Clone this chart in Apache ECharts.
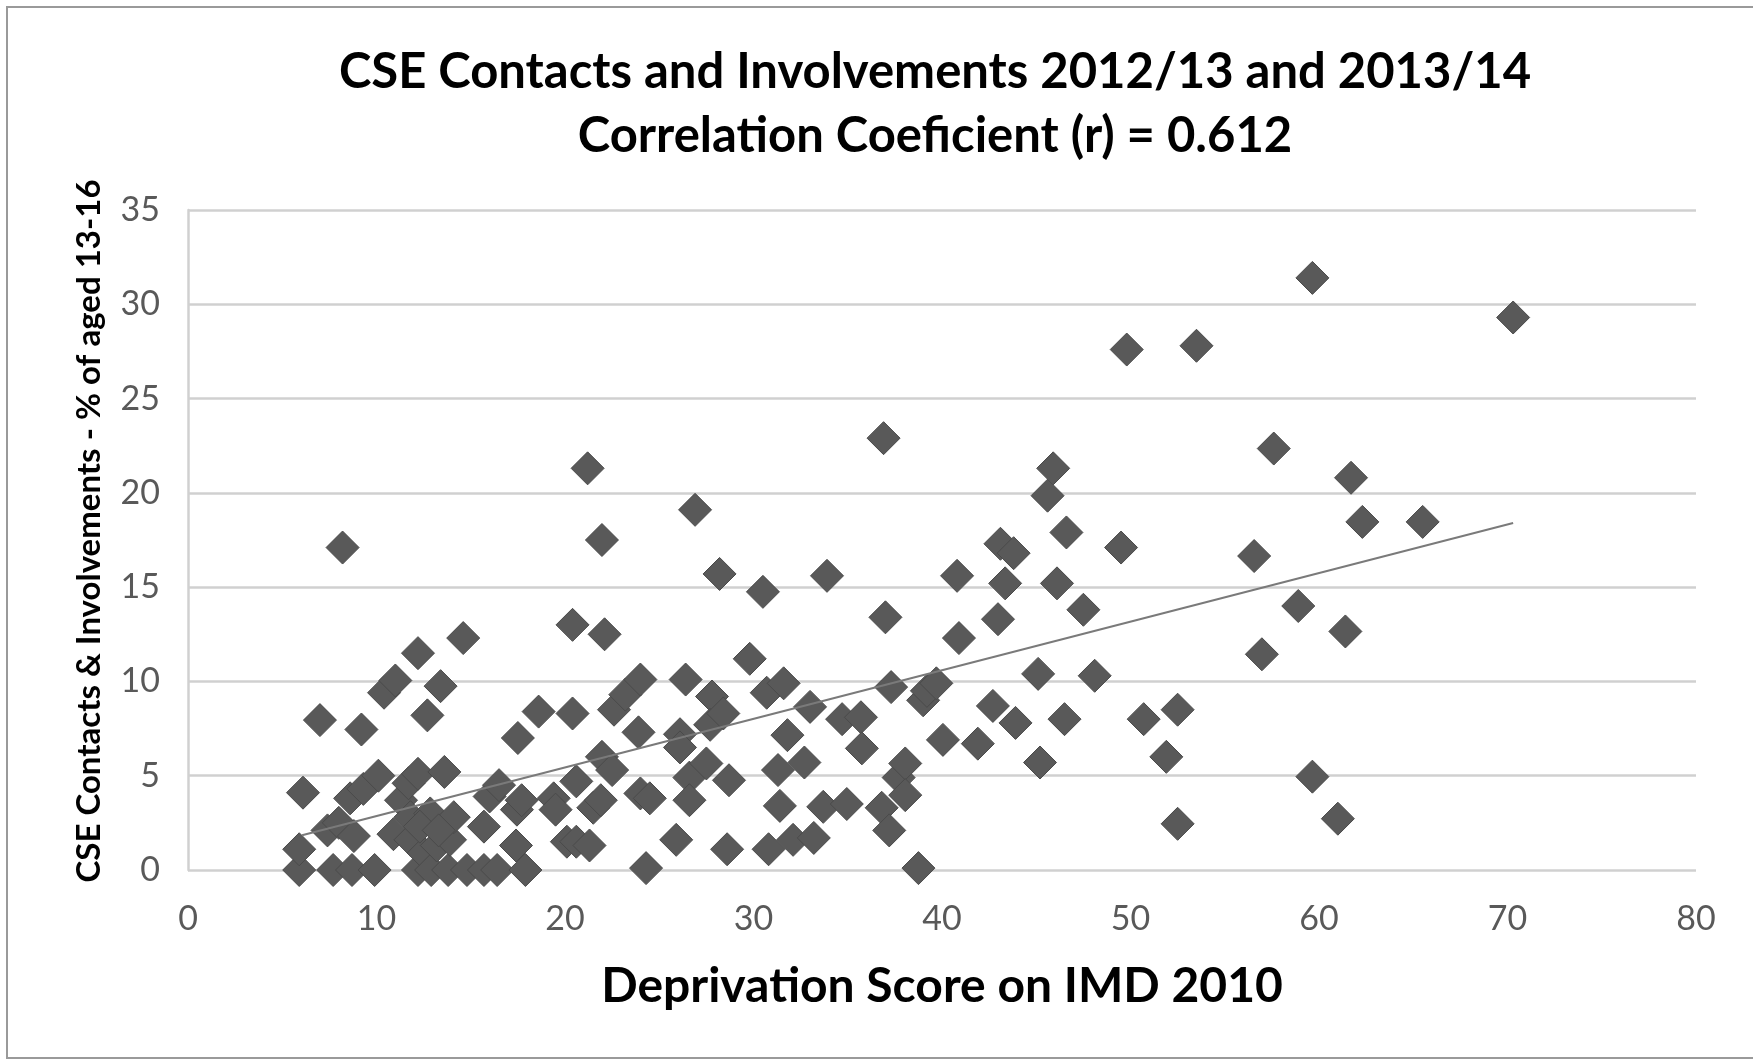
<!DOCTYPE html>
<html>
<head>
<meta charset="utf-8">
<script src="https://cdn.jsdelivr.net/npm/echarts@6/dist/echarts.min.js"></script>
<style>
html,body{margin:0;padding:0;background:#fff;}
#chart{width:1753px;height:1059px;}
</style>
</head>
<body>
<div id="chart"></div>
<script>
// Deprivation score (x) and CSE contacts & involvements % (y)
const deprivationScore = [
  5.9, 5.9, 6.1, 7.0, 7.4, 7.7, 8.0, 8.2, 8.6, 8.7, 8.8, 9.2, 9.3, 9.9, 10.1,
  10.4, 11.0, 10.9, 11.3, 11.7, 11.8, 11.8, 12.2, 12.2, 12.2, 12.5, 12.7, 12.85, 12.9, 13.2,
  13.4, 13.6, 13.8, 13.9, 14.1, 14.6, 14.8, 12.3, 13.3,
  15.7, 15.7, 16.0, 16.4, 16.5, 17.4, 17.45, 17.5, 17.7, 17.9, 18.6, 19.4, 19.5,
  20.1, 20.4, 20.4, 20.6, 20.6, 21.2, 21.3, 21.5, 21.9, 21.96, 21.96, 22.1, 22.5, 22.6,
  23.2, 23.9, 24.0, 24.0, 24.5, 24.3,
  25.9, 26.1, 26.1, 26.4, 26.6, 26.6, 26.9, 27.5, 27.8, 27.7, 28.2, 28.4, 28.6, 28.7, 29.8,
  30.5, 30.7, 30.8, 31.3, 31.4, 31.6, 31.8, 32.1, 32.7, 33.0, 33.2, 33.7, 33.9, 34.7, 34.95,
  35.7, 35.75, 36.8, 36.9, 37.0, 37.2, 37.3, 37.7, 38.05, 38.05, 38.75, 39.0, 39.2, 39.7,
  40.05, 40.8, 40.9, 41.9, 42.7, 42.97, 43.1, 43.35, 43.8, 43.9, 45.1, 45.2, 45.6, 45.9,
  46.1, 46.5, 46.6, 47.5, 48.1, 49.5, 49.8,
  50.7, 51.9, 52.5, 52.5, 53.5, 56.56, 56.97, 57.6, 58.9, 59.65, 59.65, 61.0, 61.4, 61.7,
  62.3, 65.5, 70.3
];
const csePercent = [
  0.0, 1.1, 4.1, 7.95, 2.1, 0.0, 2.5, 17.1, 3.8, 0.0, 1.8, 7.45, 4.3, 0.0, 5.0,
  9.4, 10.05, 1.9, 3.7, 4.6, 2.8, 1.6, 5.1, 11.5, 0.0, 0.9, 8.2, 3.0, 0.0, 1.3,
  9.75, 5.2, 0.0, 1.6, 2.8, 12.3, 0.0, 2.3, 2.1,
  2.3, 0.0, 3.9, 0.0, 4.5, 1.3, 3.2, 7.0, 3.7, 0.0, 8.4, 3.8, 3.2,
  1.5, 13.0, 8.3, 1.5, 4.7, 21.3, 1.3, 3.3, 3.7, 17.5, 6.0, 12.5, 5.3, 8.5,
  9.3, 7.3, 10.1, 4.06, 3.8, 0.1,
  1.6, 7.2, 6.5, 10.1, 4.9, 3.7, 19.1, 5.65, 9.2, 7.7, 15.7, 8.3, 1.1, 4.76, 11.2,
  14.75, 9.4, 1.1, 5.3, 3.4, 9.9, 7.15, 1.6, 5.7, 8.65, 1.7, 3.35, 15.6, 8.0, 3.5,
  8.1, 6.45, 3.3, 22.9, 13.4, 2.1, 9.7, 4.9, 5.65, 3.97, 0.1, 9.0, 9.5, 9.9,
  6.9, 15.6, 12.3, 6.7, 8.7, 13.3, 17.3, 15.2, 16.8, 7.8, 10.4, 5.7, 19.85, 21.3,
  15.2, 8.0, 17.9, 13.8, 10.3, 17.1, 27.6,
  8.0, 6.0, 8.5, 2.45, 27.8, 16.65, 11.44, 22.35, 14.0, 31.4, 4.95, 2.72, 12.65, 20.8,
  18.46, 18.46, 29.3
];
// Linear trend line end points
const trendX = [6.05, 70.3];
const trendY = [1.84, 18.4];
const xTicks = [0, 80, 10];   // min, max, interval
const yTicks = [0, 35, 5];

const points = deprivationScore.map((x, i) => [x, csePercent[i]]);
const trend = trendX.map((x, i) => [x, trendY[i]]);

const chart = echarts.init(document.getElementById('chart'), null, {renderer: 'canvas'});
const fontFam = 'Lato, "Open Sans", sans-serif';
chart.setOption({
  animation: false,
  backgroundColor: '#ffffff',
  title: {
    text: 'CSE Contacts and Involvements 2012/13 and 2013/14\nCorrelation Coeficient (r) = 0.612',
    left: 930,
    top: 35,
    textAlign: 'center',
    textStyle: {fontFamily: fontFam, fontWeight: 'bold', fontSize: 49, lineHeight: 64, color: '#000'}
  },
  graphic: [{
    type: 'rect',
    shape: {x: 7, y: 7, width: 1760, height: 1051},
    style: {fill: 'none', stroke: '#9a9a9a', lineWidth: 2},
    silent: true
  }],
  grid: {left: 188, right: 57, top: 210, bottom: 189, containLabel: false},
  xAxis: {
    type: 'value',
    min: xTicks[0], max: xTicks[1], interval: xTicks[2],
    name: 'Deprivation Score on IMD 2010',
    nameLocation: 'middle',
    nameGap: 117,
    nameTextStyle: {fontFamily: fontFam, fontWeight: 'bold', fontSize: 48, color: '#000', verticalAlign: 'middle'},
    axisLine: {show: false},
    axisTick: {show: false},
    splitLine: {show: false},
    axisLabel: {margin: 32, fontFamily: fontFam, fontSize: 34, color: '#595959'}
  },
  yAxis: {
    type: 'value',
    min: yTicks[0], max: yTicks[1], interval: yTicks[2],
    name: 'CSE Contacts & Involvements - % of aged 13-16',
    nameLocation: 'middle',
    nameGap: 99,
    nameRotate: 90,
    nameTextStyle: {fontFamily: fontFam, fontWeight: 'bold', fontSize: 33, color: '#000', verticalAlign: 'middle', padding: [0, 0, 0, 18]},
    axisLine: {show: true, lineStyle: {color: '#d0d0d0', width: 2.5}},
    axisTick: {show: false},
    splitLine: {show: true, lineStyle: {color: '#d0d0d0', width: 2.5}},
    axisLabel: {margin: 28, fontFamily: fontFam, fontSize: 34, color: '#595959'}
  },
  series: [{
    type: 'scatter',
    data: points,
    symbol: 'diamond',
    symbolSize: 33,
    itemStyle: {color: '#595959', borderColor: '#4a4a4a', borderWidth: 1, opacity: 1},
    z: 3
  }, {
    type: 'line',
    data: trend,
    symbol: 'none',
    lineStyle: {color: '#7a7a7a', width: 2},
    z: 4
  }]
});
</script>
</body>
</html>
